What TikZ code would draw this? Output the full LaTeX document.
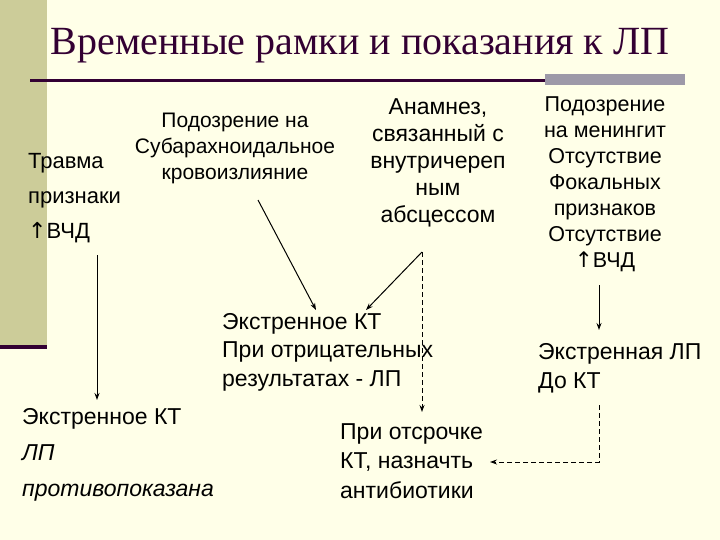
\documentclass[tikz,border=0pt]{standalone}
\usepackage{fontspec}
\setmainfont{Liberation Sans}
\newfontfamily\titlefont{Liberation Serif}
\newfontfamily\symfont{DejaVu Sans}
\usetikzlibrary{arrows.meta}
\newcommand{\uparr}{{\symfont ↑}}
\begin{document}
\begin{tikzpicture}[x=1pt,y=-1pt,
  txt/.style={align=left, anchor=north west, inner sep=0pt},
  ctxt/.style={align=center, anchor=north, inner sep=0pt},
  arr/.style={-{Stealth[length=7pt,width=5pt]}, line width=1pt},
  darr/.style={arr, dash pattern=on 5pt off 3pt}]
\definecolor{bg}{HTML}{FFFFE8}
\definecolor{khaki}{HTML}{CCCC99}
\definecolor{dpurple}{HTML}{330033}
\definecolor{greybar}{HTML}{9D99A8}
\fill[bg] (0,0) rectangle (720,540);
\useasboundingbox (0,0) rectangle (720,540);
\fill[khaki] (0,0) rectangle (47,345);
\fill[dpurple] (0,345) rectangle (47,349);
\fill[dpurple] (30,79) rectangle (545,82);
\fill[greybar] (545,74) rectangle (685,85);
\node[font=\titlefont\fontsize{40}{44}\selectfont, text=dpurple] (title) at (360,46) {Временные рамки и показания к ЛП};

\node[txt, font=\fontsize{22}{35}\selectfont] (trauma) at (28,153) {Травма\\признаки\\\uparr ВЧД};
\node[ctxt, font=\fontsize{21}{26}\selectfont] (sah) at (235,113) {Подозрение на\\Субарахноидальное\\кровоизлияние};
\node[ctxt, font=\fontsize{23}{27}\selectfont] (absc) at (438,98) {Анамнез,\\связанный с\\внутричереп\\ным\\абсцессом};
\node[ctxt, font=\fontsize{21.5}{26}\selectfont] (menin) at (605,97) {Подозрение\\на менингит\\Отсутствие\\Фокальных\\признаков\\Отсутствие\\ \uparr ВЧД};

\node[txt, font=\fontsize{23}{28.5}\selectfont] (ct) at (222,313) {Экстренное КТ\\При отрицательных\\результатах - ЛП};
\node[txt, font=\fontsize{23}{29}\selectfont] (lp) at (538,343) {Экстренная ЛП\\До КТ};
\node[txt, font=\fontsize{23}{36}\selectfont] (ctl) at (22,408) {Экстренное КТ\\\itshape ЛП\\\itshape противопоказана};
\node[txt, font=\fontsize{23}{29.5}\selectfont] (ab) at (340,423) {При отсрочке\\КТ, назначть\\антибиотики};

\coordinate (a1) at (258,200); \coordinate (a2) at (316,310);
\coordinate (b1) at (422,252); \coordinate (b2) at (366,310);
\coordinate (c2) at (422,412);
\coordinate (d1) at (97,255); \coordinate (d2) at (97,400);
\coordinate (e1) at (599,285); \coordinate (e2) at (599,330);
\coordinate (f1) at (599,405); \coordinate (f2) at (599,462); \coordinate (f3) at (490,462);
\draw[arr] (a1) -- (a2);
\draw[arr] (b1) -- (b2);
\draw[darr] (b1) -- (c2);
\draw[arr] (d1) -- (d2);
\draw[arr] (e1) -- (e2);
\draw[darr] (f1) -- (f2) -- (f3);
\end{tikzpicture}
\end{document}
